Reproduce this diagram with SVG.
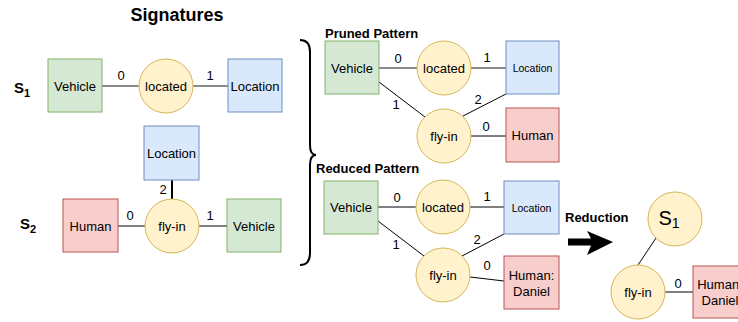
<svg xmlns="http://www.w3.org/2000/svg" width="738" height="322" viewBox="0 0 738 322">
<style>
text{font-family:"Liberation Sans",Arial,sans-serif;fill:#000}
.t{font-size:13px;text-anchor:middle;dominant-baseline:central}
.s{font-size:10.5px;text-anchor:middle;dominant-baseline:central}
.b{font-weight:bold}
.g{fill:#d5e8d4;stroke:#82b366}
.bl{fill:#dae8fc;stroke:#6c8ebf}
.r{fill:#f8cecc;stroke:#b85450}
.y{fill:#fff2cc;stroke:#d6b656}
.ln{stroke:#000;stroke-width:1;fill:none}
.gl{stroke:#666;stroke-width:1.5;fill:none}
</style>
<rect width="738" height="322" fill="#fff"/>
<text x="177" y="15" class="b" font-size="18" text-anchor="middle" dominant-baseline="central">Signatures</text>
<text x="14" y="93" class="b" font-size="15">S<tspan font-size="11" dy="4">1</tspan></text>
<text x="20" y="229" class="b" font-size="15">S<tspan font-size="11" dy="4">2</tspan></text>
<text x="325" y="38" class="b" font-size="13">Pruned Pattern</text>
<text x="316" y="173" class="b" font-size="13">Reduced Pattern</text>
<text x="565" y="222" class="b" font-size="13">Reduction</text>

<g id="connectors">
<line x1="102" y1="86" x2="139" y2="86" class="gl"/>
<line x1="193" y1="86" x2="228" y2="86" class="gl"/>
<line x1="118" y1="226" x2="145" y2="226" class="ln"/>
<line x1="199" y1="226" x2="227" y2="226" class="ln"/>
<line x1="172" y1="180" x2="172" y2="199" stroke="#000" stroke-width="2"/>
<line x1="379" y1="68" x2="417" y2="68" class="gl"/>
<line x1="471" y1="68" x2="506" y2="68" class="gl"/>
<line x1="379" y1="82" x2="425" y2="117" class="ln"/>
<line x1="506" y1="94" x2="463" y2="116" class="ln"/>
<line x1="471" y1="136" x2="506" y2="136" class="ln"/>
<line x1="378" y1="207" x2="416" y2="207" class="ln"/>
<line x1="470" y1="207" x2="504" y2="207" class="ln"/>
<line x1="378" y1="221" x2="424" y2="256" class="ln"/>
<line x1="504" y1="234" x2="462" y2="256" class="ln"/>
<line x1="470" y1="277" x2="504" y2="281" class="ln"/>
<line x1="656" y1="238" x2="638" y2="265" class="ln"/>
<line x1="665" y1="292" x2="693" y2="292" class="ln"/>
<path d="M300,40 Q310,40 310,52 L310,145 Q310,155 316,155 Q310,155 310,165 L310,253 Q310,265 300,265" fill="none" stroke="#000" stroke-width="2"/>
<path d="M568,238.5 L591,238.5 L587,231 L613,242 L587,255 L591,245.5 L568,245.5 Z" fill="#000"/>
</g>
<g id="edge-labels">
<text x="121" y="75" class="t">0</text>
<text x="210" y="75" class="t">1</text>
<text x="130" y="215" class="t">0</text>
<text x="210" y="215" class="t">1</text>
<text x="163" y="189" class="t">2</text>
<text x="398" y="58" class="t">0</text>
<text x="487" y="57" class="t">1</text>
<text x="396" y="104" class="t">1</text>
<text x="478" y="99" class="t">2</text>
<text x="486" y="126" class="t">0</text>
<text x="397" y="197" class="t">0</text>
<text x="487" y="196" class="t">1</text>
<text x="396" y="244" class="t">1</text>
<text x="477" y="239" class="t">2</text>
<text x="487" y="265" class="t">0</text>
<text x="678" y="283" class="t">0</text>
</g>

<g id="s1-vehicle"><rect x="48" y="59" width="54" height="53" class="g"/><text x="75" y="86" class="t">Vehicle</text></g>
<g id="s1-located"><circle cx="166" cy="86" r="27" class="y"/><text x="166" y="86" class="t">located</text></g>
<g id="s1-location"><rect x="228" y="59" width="54" height="53" class="bl"/><text x="255" y="86" class="t">Location</text></g>

<g id="s2-location"><rect x="144" y="126" width="55" height="54" class="bl"/><text x="171.5" y="153" class="t">Location</text></g>
<g id="s2-flyin"><circle cx="172" cy="226" r="27" class="y"/><text x="172" y="226" class="t">fly-in</text></g>
<g id="s2-human"><rect x="63" y="199" width="55" height="53" class="r"/><text x="90.5" y="226" class="t">Human</text></g>
<g id="s2-vehicle"><rect x="227" y="199" width="54" height="53" class="g"/><text x="254" y="226" class="t">Vehicle</text></g>

<g id="p-vehicle"><rect x="325" y="41" width="54" height="53" class="g"/><text x="352" y="68" class="t">Vehicle</text></g>
<g id="p-located"><circle cx="444" cy="68" r="27" class="y"/><text x="444" y="68" class="t">located</text></g>
<g id="p-location"><rect x="506" y="41" width="53" height="53" class="bl"/><text x="532.5" y="68" class="s">Location</text></g>
<g id="p-flyin"><circle cx="444" cy="136" r="27" class="y"/><text x="444" y="136" class="t">fly-in</text></g>
<g id="p-human"><rect x="506" y="108" width="53" height="54" class="r"/><text x="532.5" y="135" class="t">Human</text></g>

<g id="r-vehicle"><rect x="324" y="181" width="54" height="53" class="g"/><text x="351" y="207" class="t">Vehicle</text></g>
<g id="r-located"><circle cx="443" cy="207" r="27" class="y"/><text x="443" y="207" class="t">located</text></g>
<g id="r-location"><rect x="504" y="181" width="55" height="53" class="bl"/><text x="531.5" y="208" class="s">Location</text></g>
<g id="r-flyin"><circle cx="443" cy="275" r="27" class="y"/><text x="443" y="275" class="t">fly-in</text></g>
<g id="r-human"><rect x="504" y="256" width="55" height="53" class="r"/><text x="531.5" y="275" class="t">Human:</text><text x="531.5" y="291" class="t">Daniel</text></g>

<g id="x-s1"><circle cx="675" cy="219" r="27" class="y"/><text x="669" y="218" font-size="20" text-anchor="middle" dominant-baseline="central">S<tspan font-size="14" dy="5">1</tspan></text></g>
<g id="x-flyin"><circle cx="638" cy="292" r="27" class="y"/><text x="638" y="292" class="t">fly-in</text></g>
<g id="x-human"><rect x="693" y="266" width="54" height="52" class="r"/><text x="720" y="284" class="t">Human:</text><text x="720" y="300" class="t">Daniel</text></g>
</svg>
